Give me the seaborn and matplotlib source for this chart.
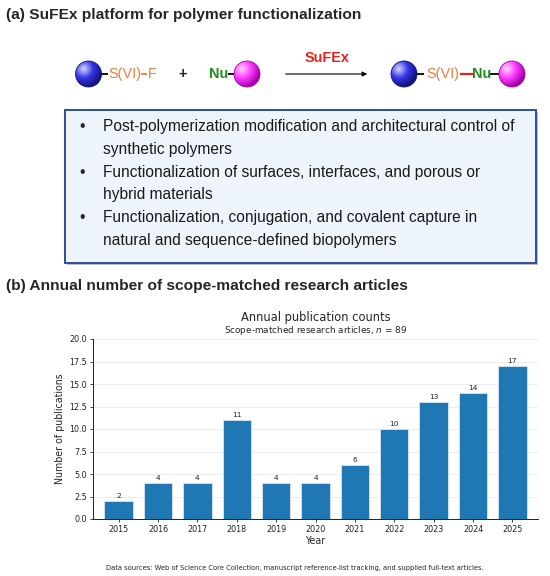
import matplotlib
matplotlib.use("Agg")
import matplotlib.pyplot as plt
import seaborn as sns
import numpy as np
import pandas as pd
from matplotlib.patches import Rectangle, Circle

# Daten: jaehrliche Publikationen
years = ["2015", "2016", "2017", "2018", "2019", "2020", "2021", "2022", "2023", "2024", "2025"]
counts = [2, 4, 4, 11, 4, 4, 6, 10, 13, 14, 17]

title_a = "(a) SuFEx platform for polymer functionalization"
title_b = "(b) Annual number of scope-matched research articles"
bullets = [
    ["Post-polymerization modification and architectural control of", "synthetic polymers"],
    ["Functionalization of surfaces, interfaces, and porous or", "hybrid materials"],
    ["Functionalization, conjugation, and covalent capture in", "natural and sequence-defined biopolymers"],
]
source_note = ("Data sources: Web of Science Core Collection, manuscript reference-list tracking, "
               "and supplied full-text articles.")

ORANGE = "#ef7c3c"
GREEN = "#1e8c1e"
RED = "#e2231a"
SANS = "Liberation Sans"


def draw_sphere(ax, cx, cy, r, light, mid, dark):
    """Kugel mit Glanzpunkt oben links"""
    n = 80
    xs = np.linspace(cx - r, cx + r, n)
    ys = np.linspace(cy - r, cy + r, n)
    X, Y = np.meshgrid(xs, ys)
    hx, hy = cx - 0.4 * r, cy - 0.4 * r
    d = np.clip(np.hypot(X - hx, Y - hy) / (1.45 * r), 0, 1)
    light, mid, dark = [np.array(matplotlib.colors.to_rgb(c)) for c in (light, mid, dark)]
    t = d[..., None]
    img = np.where(t < 0.5, light + (mid - light) * (t / 0.5), mid + (dark - mid) * ((t - 0.5) / 0.5))
    im = ax.imshow(img, extent=(cx - r, cx + r, cy + r, cy - r), zorder=3, interpolation="bilinear")
    clip = Circle((cx, cy), r, transform=ax.transData)
    im.set_clip_path(clip)
    ax.add_patch(Circle((cx, cy), r, fill=False, edgecolor=dark, lw=0.6, zorder=4))


def bond(ax, x0, x1, y, color="black", lw=1.3):
    ax.plot([x0, x1], [y, y], color=color, lw=lw, solid_capstyle="butt", zorder=2)


def create_figure():
    sns.set_style("ticks")
    plt.rcParams["font.family"] = ["DejaVu Sans"]

    fig = plt.figure(figsize=(5.5, 5.76), dpi=100)

    # Overlay in Pixelkoordinaten fuer Schema und Ueberschriften
    ov = fig.add_axes([0, 0, 1, 1])
    ov.set_xlim(0, 550)
    ov.set_ylim(576, 0)
    ov.axis("off")
    ov.patch.set_alpha(0)

    ov.text(6, 15, title_a, family=SANS, fontsize=11.15, fontweight="bold", va="center", ha="left")
    ov.text(6, 286, title_b, family=SANS, fontsize=11.15, fontweight="bold", va="center", ha="left")

    y0 = 74
    # Edukte
    draw_sphere(ov, 88.5, y0, 13, "#d8d8ff", "#3535e8", "#12127a")
    bond(ov, 101, 108, y0)
    ov.text(124.5, y0, "S(VI)", family=SANS, fontsize=10.4, color=ORANGE, ha="center", va="center")
    bond(ov, 141, 146.5, y0, color=ORANGE)
    ov.text(152.5, y0, "F", family=SANS, fontsize=10.4, color=ORANGE, ha="center", va="center")
    ov.text(183, y0, "+", family=SANS, fontsize=10.4, fontweight="bold", ha="center", va="center")
    ov.text(218.5, y0, "Nu", family=SANS, fontsize=10.4, fontweight="bold", color=GREEN, ha="center", va="center")
    bond(ov, 228, 235, y0)
    draw_sphere(ov, 247, y0, 13, "#ffd8ff", "#ff3cff", "#a000a8")

    # Pfeil
    ov.annotate("", xy=(370, y0), xytext=(283, y0),
                arrowprops=dict(arrowstyle="-|>", color="black", lw=0.8, mutation_scale=7))
    ov.text(327, y0 - 16.5, "SuFEx", family=SANS, fontsize=10.4, fontweight="bold", color=RED,
            ha="center", va="center")

    # Produkt
    draw_sphere(ov, 404, y0, 13, "#d8d8ff", "#3535e8", "#12127a")
    bond(ov, 416, 424, y0)
    ov.text(442.5, y0, "S(VI)", family=SANS, fontsize=10.4, color=ORANGE, ha="center", va="center")
    bond(ov, 460, 473, y0, color=RED, lw=1.6)
    ov.text(481.5, y0, "Nu", family=SANS, fontsize=10.4, fontweight="bold", color=GREEN, ha="center", va="center")
    bond(ov, 490, 500, y0)
    draw_sphere(ov, 512, y0, 13, "#ffd8ff", "#ff3cff", "#a000a8")

    # Kasten mit Anwendungsfeldern
    ov.add_patch(Rectangle((67, 112), 471, 153, facecolor="#b8bcc8", edgecolor="none", zorder=1))
    ov.add_patch(Rectangle((65, 110), 471, 153, facecolor="#eef4fc", edgecolor="#2d4c9c", lw=1.4, zorder=1.5))
    line_y = 127
    for item in bullets:
        ov.text(82, line_y, "\u2022", family=SANS, fontsize=11.2, ha="center", va="center", zorder=5)
        for line in item:
            ov.text(103, line_y, line, family=SANS, fontsize=11.2, ha="left", va="center",
                    color="#1a1a1a", zorder=5)
            line_y += 22.6

    # Balkendiagramm
    ax = fig.add_axes([93 / 550, 1 - 519 / 576, (538 - 93) / 550, 180 / 576])
    df = pd.DataFrame({"Year": years, "Count": counts})
    sns.barplot(data=df, x="Year", y="Count", color="#1f77b4", saturation=1, width=0.72,
                edgecolor="#d6e6f4", linewidth=0.6, ax=ax, zorder=3)
    ax.set_xlim(-0.65, len(years) - 0.35)
    ax.set_ylim(0, 20)
    ax.set_yticks(np.arange(0, 20.01, 2.5))
    ax.set_yticklabels([f"{v:.1f}" for v in np.arange(0, 20.01, 2.5)])
    ax.yaxis.grid(True, color="#e4e4e4", lw=0.5, zorder=0)
    ax.set_axisbelow(True)
    sns.despine(ax=ax)
    for s in ["left", "bottom"]:
        ax.spines[s].set_linewidth(0.7)
        ax.spines[s].set_color("#222222")
    ax.tick_params(axis="both", labelsize=5.8, width=0.6, length=2.5, pad=2, colors="#222222")
    ax.set_xlabel("Year", fontsize=6.85, labelpad=1.5)
    ax.set_ylabel("Number of publications", fontsize=6.85, labelpad=3)

    for i, c in enumerate(counts):
        ax.text(i, c + 0.25, str(c), ha="center", va="bottom", fontsize=5.3, color="#222222")

    fig.text(315.5 / 550, 1 - 317 / 576, "Annual publication counts", ha="center", va="center", fontsize=8.3)
    fig.text(315.5 / 550, 1 - 330.5 / 576, "Scope-matched research articles, $n$ = 89",
             ha="center", va="center", fontsize=6.4)
    fig.text(295 / 550, 1 - 568 / 576, source_note, ha="center", va="center", fontsize=4.9)

    fig.savefig("out.png", dpi=100, facecolor="white")


if __name__ == "__main__":
    create_figure()
